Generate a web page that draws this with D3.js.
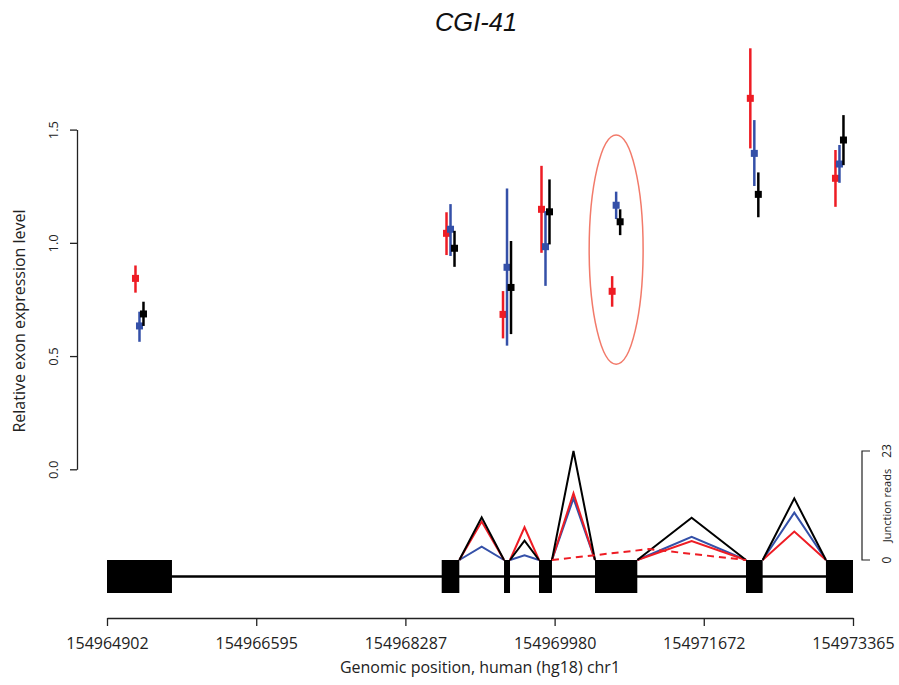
<!DOCTYPE html>
<html>
<head>
<meta charset="utf-8">
<script src="https://cdn.jsdelivr.net/npm/d3@7"></script>
<style>
  body { margin: 0; background: #fff; }
  text { font-family: "Open Sans", sans-serif; fill: #222; }
</style>
</head>
<body>
<div id="chart"></div>
<script>
// exon coordinates (hg18 chr1)
const exonStart = [154964902, 154968699, 154969406, 154969803, 154970438, 154972151, 154973058]
const exonEnd   = [154965639, 154968899, 154969474, 154969950, 154970918, 154972340, 154973365]
const xTicks = [154964902, 154966595, 154968287, 154969980, 154971672, 154973365]
const yTicks = [0.0, 0.5, 1.0, 1.5]

// relative expression per exon, three samples
const redVal  = [0.843, 1.042, 0.684, 1.148, 0.786, 1.638, 1.285]
const redLo   = [0.780, 0.946, 0.578, 0.956, 0.718, 1.417, 1.159]
const redHi   = [0.900, 1.135, 0.787, 1.340, 0.853, 1.859, 1.410]
const blueVal = [0.633, 1.060, 0.892, 0.983, 1.166, 1.395, 1.348]
const blueLo  = [0.563, 0.942, 0.546, 0.810, 1.105, 1.251, 1.265]
const blueHi  = [0.696, 1.171, 1.240, 1.140, 1.226, 1.542, 1.432]
const blackVal = [0.686, 0.976, 0.803, 1.137, 1.093, 1.214, 1.454]
const blackLo  = [0.633, 0.894, 0.597, 0.993, 1.034, 1.113, 1.343]
const blackHi  = [0.740, 1.053, 1.008, 1.280, 1.148, 1.311, 1.564]

// junctions: from exon index -> to exon index, reads per sample
const juncFrom  = [1, 2, 3, 4, 5]
const juncTo    = [2, 3, 4, 5, 6]
const juncRed   = [8.1, 6.9, 14.1, 4.0, 6.0]
const juncBlue  = [2.8, 1.0, 13.0, 4.9, 10.0]
const juncBlack = [9.0, 4.1, 23.0, 8.9, 13.0]
// exon-skipping junction (red only, dashed)
const skipFrom = 3, skipTo = 5, skipRed = 2.3
const juncMax = 23

// highlighted exon (ellipse)
const hlExon = 4, hlCenter = 0.97, hlHalfHeight = 0.506, hlHalfWidth = 306

const width = 899, height = 685
const colors = { red: "#ee1c24", blue: "#3450a8", black: "#000" }

const svg = d3.select('#chart').append('svg')
  .attr('width', width)
  .attr('height', height)

const x = d3.scaleLinear().domain([154964902, 154973365]).range([107, 853])
const y = d3.scaleLinear().domain([0, 1.5]).range([469.3, 129.6])
const yj = d3.scaleLinear().domain([0, juncMax]).range([560, 451])

const mid = i => (exonStart[i] + exonEnd[i]) / 2

// title
svg.append('text')
  .attr('x', 476).attr('y', 31)
  .attr('text-anchor', 'middle')
  .style('font', 'italic 25.5px "Liberation Sans", Arial, sans-serif')
  .style('fill', '#111')
  .text('CGI-41')

// y axis
const yAxis = svg.append('g').attr('transform', 'translate(77,0)')
  .call(d3.axisLeft(y).tickValues(yTicks).tickFormat(d3.format('.1f')).tickSize(7).tickSizeOuter(0))
yAxis.select('.domain').attr('stroke', '#222').attr('stroke-width', 1.3)
yAxis.selectAll('.tick line').attr('stroke', '#222').attr('stroke-width', 1.3)
yAxis.selectAll('.tick text')
  .attr('transform', 'rotate(-90)')
  .attr('x', 0).attr('y', -19).attr('dy', 0)
  .attr('text-anchor', 'middle')
  .style('font-size', '13px')

svg.append('text')
  .attr('transform', 'translate(25,321) rotate(-90)')
  .attr('text-anchor', 'middle')
  .style('font-size', '16px')
  .text('Relative exon expression level')

// x axis
const xAxis = svg.append('g').attr('transform', 'translate(0,618)')
  .call(d3.axisBottom(x).tickValues(xTicks).tickFormat(d3.format('d')).tickSize(8).tickSizeOuter(0))
xAxis.select('.domain').attr('stroke', '#222').attr('stroke-width', 1.3)
xAxis.selectAll('.tick line').attr('stroke', '#222').attr('stroke-width', 1.3)
xAxis.selectAll('.tick text')
  .attr('y', 20).attr('dy', '0.71em')
  .style('font-size', '16px')

svg.append('text')
  .attr('x', 480).attr('y', 673)
  .attr('text-anchor', 'middle')
  .style('font-size', '16px')
  .text('Genomic position, human (hg18) chr1')

// gene model: intron line then exon boxes
svg.append('line')
  .attr('x1', x(exonStart[0])).attr('x2', x(exonEnd[exonEnd.length - 1]))
  .attr('y1', 576.5).attr('y2', 576.5)
  .style('stroke', '#000').style('stroke-width', 2.5)

svg.selectAll('.exon')
  .data(exonStart)
  .enter().append('rect')
  .attr('class', 'exon')
  .attr('x', (d, i) => x(d))
  .attr('width', (d, i) => x(exonEnd[i]) - x(d))
  .attr('y', 560).attr('height', 33)
  .style('fill', '#000')

// junction read peaks
const peak = (a, b, r) => [[x(exonEnd[a]), yj(0)], [(x(exonEnd[a]) + x(exonStart[b])) / 2, yj(r)], [x(exonStart[b]), yj(0)]]
const line = d3.line()
const juncSeries = [['blue', juncBlue], ['red', juncRed], ['black', juncBlack]]
juncSeries.forEach(([c, vals]) => {
  svg.selectAll('.junc-' + c)
    .data(vals)
    .enter().append('path')
    .attr('class', 'junc-' + c)
    .attr('d', (d, i) => line(peak(juncFrom[i], juncTo[i], d)))
    .style('fill', 'none')
    .style('stroke', colors[c])
    .style('stroke-width', 2)
    .style('stroke-linejoin', 'miter')
})
svg.append('path')
  .attr('d', line(peak(skipFrom, skipTo, skipRed)))
  .style('fill', 'none')
  .style('stroke', colors.red)
  .style('stroke-width', 2)
  .style('stroke-dasharray', '7,5')

// junction reads scale bracket
const jx = 862
svg.append('path')
  .attr('d', `M${jx + 8},${yj(juncMax)}H${jx}V${yj(0)}H${jx + 8}`)
  .style('fill', 'none').style('stroke', '#222').style('stroke-width', 1.2)
svg.append('text')
  .attr('transform', `translate(891,${yj(juncMax)}) rotate(-90)`)
  .attr('text-anchor', 'middle')
  .style('font-size', '12px')
  .text(juncMax)
svg.append('text')
  .attr('transform', `translate(891,${yj(0)}) rotate(-90)`)
  .attr('text-anchor', 'middle')
  .style('font-size', '12px')
  .text('0')
svg.append('text')
  .attr('transform', `translate(891,${yj(juncMax / 2)}) rotate(-90)`)
  .attr('text-anchor', 'middle')
  .style('font-size', '11px')
  .text('Junction reads')

// highlighted exon
svg.append('ellipse')
  .attr('cx', x(mid(hlExon)))
  .attr('cy', y(hlCenter))
  .attr('rx', x(mid(hlExon) + hlHalfWidth) - x(mid(hlExon)))
  .attr('ry', y(hlCenter - hlHalfHeight) - y(hlCenter))
  .style('fill', 'none')
  .style('stroke', '#f27a6a')
  .style('stroke-width', 1.5)

// expression points with error bars
const series = [
  { name: 'red', off: -4, val: redVal, lo: redLo, hi: redHi },
  { name: 'blue', off: 0, val: blueVal, lo: blueLo, hi: blueHi },
  { name: 'black', off: 4, val: blackVal, lo: blackLo, hi: blackHi }
]
const sq = 7
series.forEach(s => {
  const g = svg.append('g').attr('class', 'pts-' + s.name)
  g.selectAll('line')
    .data(s.val)
    .enter().append('line')
    .attr('x1', (d, i) => x(mid(i)) + s.off)
    .attr('x2', (d, i) => x(mid(i)) + s.off)
    .attr('y1', (d, i) => y(s.lo[i]))
    .attr('y2', (d, i) => y(s.hi[i]))
    .style('stroke', colors[s.name])
    .style('stroke-width', 2.5)
  g.selectAll('rect')
    .data(s.val)
    .enter().append('rect')
    .attr('x', (d, i) => x(mid(i)) + s.off - sq / 2)
    .attr('y', d => y(d) - sq / 2)
    .attr('width', sq).attr('height', sq)
    .style('fill', colors[s.name])
})
</script>
</body>
</html>
